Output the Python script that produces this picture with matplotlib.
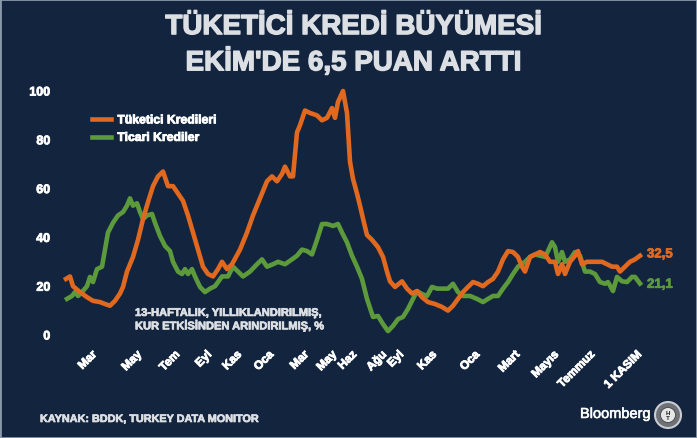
import numpy as np
import matplotlib
matplotlib.use("Agg")
import matplotlib.pyplot as plt
import matplotlib.patheffects as pe
from matplotlib.patches import Ellipse, Rectangle

plt.rcParams["font.family"] = ["Liberation Sans", "DejaVu Sans"]

# ── DATA (zaman ekseni: dönem başından itibaren sıra) ────────────
t_tuketici = [0, 4, 7, 14, 21, 27, 34, 39, 44, 49,
              54, 57, 61, 67, 72, 77, 82, 87, 92, 97,
              102, 107, 112, 117, 122, 127, 132, 137, 142, 147,
              152, 156, 161, 166, 174, 181, 187, 194, 201, 206,
              211, 216, 219, 224, 227, 231, 234, 239, 244, 251,
              256, 261, 266, 269, 272, 277, 281, 284, 287, 291,
              294, 298, 301, 306, 312, 317, 321, 324, 329, 336,
              341, 346, 351, 356, 362, 369, 376, 382, 387, 392,
              397, 402, 407, 412, 417, 422, 427, 432, 437, 442,
              447, 452, 456, 459, 464, 469, 474, 479, 484, 489,
              492, 496, 499, 504, 509, 512, 516, 521, 526, 531,
              536, 541, 546, 551, 554, 559, 564, 569, 574]
tuketici = [23, 24, 20, 17.6, 15.5, 14, 13.5, 12.7, 12, 14,
            17, 19.7, 26, 32, 39, 47.5, 54.5, 61, 65, 67,
            61, 61, 58, 55, 49, 42, 35, 28, 25, 24,
            27, 30, 27, 29, 35, 42, 49, 56, 63, 65,
            63, 66, 69, 65, 65, 83, 86, 92, 91, 90,
            88, 89, 93, 89, 95.5, 100, 91, 71, 64, 58,
            53, 46, 41, 39, 36, 32, 26, 22, 19.7, 22,
            19, 17, 18, 15.5, 13.5, 12.7, 11.5, 10, 12, 14.8,
            17.6, 19.7, 21.7, 21, 20, 21.7, 23, 26, 31, 34.4,
            34, 32, 28, 26, 32, 33, 34, 33, 30, 30,
            25, 29, 25, 30, 32.5, 34.4, 29, 30, 30, 30,
            30, 29, 28, 28, 26, 28, 30, 31, 32.5]

t_ticari = [1, 6, 9, 12, 16, 21, 24, 27, 31, 36,
            39, 42, 47, 52, 57, 61, 64, 67, 71, 74,
            77, 81, 86, 89, 94, 99, 104, 107, 112, 116,
            119, 122, 126, 129, 134, 139, 144, 149, 152, 156,
            162, 167, 172, 177, 184, 191, 196, 201, 207, 212,
            219, 226, 231, 236, 241, 246, 251, 256, 261, 267,
            272, 276, 281, 286, 291, 296, 301, 307, 312, 317,
            322, 327, 332, 337, 342, 347, 351, 356, 361, 366,
            371, 376, 382, 387, 392, 397, 404, 411, 417, 422,
            427, 432, 437, 442, 447, 452, 459, 464, 469, 474,
            479, 482, 486, 489, 492, 496, 499, 504, 509, 514,
            519, 524, 529, 534, 539, 542, 547, 551, 556, 561,
            566, 569, 574]
ticari = [14.8, 16, 17.6, 16, 17.6, 20, 23.8, 21.7, 27, 28,
          35, 42, 46, 49, 50.4, 53, 56, 53, 54, 50.4,
          47.5, 49, 49.6, 46, 40.6, 36.5, 34.4, 30, 26, 25,
          27, 25, 27, 24, 19.7, 17.6, 19, 20, 21.7, 24,
          24, 28, 26, 24, 26, 29, 31, 28, 29, 30,
          29, 31, 32.5, 35, 34.4, 33, 39, 45.5, 45.5, 44.7,
          45.5, 42, 38, 32.5, 28, 23, 14.8, 7.4, 7.8, 4.5,
          1.6, 3.7, 6.5, 7.4, 10.7, 14.8, 18, 16.8, 16, 19.7,
          19, 19, 19, 21, 17.6, 16, 16, 14.8, 13.5, 14.8,
          16, 16, 19, 21.7, 25, 28, 30, 32, 33, 32.5,
          32, 34.4, 38, 36, 30, 34, 30, 31, 34, 32.5,
          26, 26, 25, 21.7, 21, 21.7, 18, 23.8, 22, 21.7,
          23.8, 23.8, 21.1]

tick_pos = [29, 74, 112, 144, 174, 206, 241, 269, 289, 319, 336, 369, 412, 452,
            491, 527, 574]
tick_labels = ["Mar", "May", "Tem", "Eyl", "Kas", "Oca", "Mar", "May", "Haz",
               "Ağu", "Eyl", "Kas", "Oca", "Mart", "Mayıs", "Temmuz", "1 KASIM"]
y_ticks = [0, 20, 40, 60, 80, 100]

# ── STYLE ────────────────────────────────────────────────────────
BG     = "#13253e"
ORANGE = "#e0691f"
GREEN  = "#5c9a3c"
LIGHT  = "#dcdfe4"

def heavy(color, w=0.6):
    # bolder look than plain Liberation Sans Bold
    return [pe.withStroke(linewidth=w, foreground=color)]

fig = plt.figure(figsize=(6.97, 4.39), dpi=100, facecolor=BG)
ax = fig.add_axes([60/697, (439-340)/439, 590/697, 252/439], facecolor=BG)

ax.plot(t_ticari, ticari, color=GREEN, lw=3.3, solid_joinstyle="round",
        label="Ticari Krediler", zorder=2)
ax.plot(t_tuketici, tuketici, color=ORANGE, lw=3.3, solid_joinstyle="round",
        label="Tüketici Kredileri", zorder=3)

ax.set_xlim(-6, 584)
ax.set_ylim(-1.64, 101.64)
ax.set_yticks(y_ticks)
ax.set_yticklabels([str(v) for v in y_ticks], fontsize=9, fontweight="bold",
                   color="white")
ax.set_xticks(tick_pos)
ax.set_xticklabels(tick_labels, rotation=45, ha="right", va="center",
                   rotation_mode="anchor", fontsize=8.5, fontweight="bold",
                   color="white")
for lab in ax.get_xticklabels() + ax.get_yticklabels():
    lab.set_path_effects(heavy("white"))
ax.tick_params(axis="both", length=0)
ax.tick_params(axis="y", pad=7)
ax.tick_params(axis="x", pad=10)
for s in ax.spines.values():
    s.set_visible(False)

# legend (order: Tüketici on top)
h, l = ax.get_legend_handles_labels()
leg = ax.legend(h[::-1], l[::-1], loc="upper left", bbox_to_anchor=(0.035, 0.935),
                frameon=False, handlelength=1.6, handletextpad=0.5,
                labelspacing=0.45, prop={"weight": "bold", "size": 8.8})
for txt in leg.get_texts():
    txt.set_color("white")
    txt.set_path_effects(heavy("white"))

# end labels
ax.text(t_tuketici[-1] + 7, tuketici[-1] + 0.5, "32,5", color=ORANGE, fontsize=9.5,
        fontweight="bold", va="center", ha="left", path_effects=heavy(ORANGE))
ax.text(t_ticari[-1] + 7, ticari[-1] - 0.5, "21,1", color=GREEN, fontsize=9.5,
        fontweight="bold", va="center", ha="left", path_effects=heavy(GREEN))

# note
ax.text(69, 6.3, "13-HAFTALIK, YILLIKLANDIRILMIŞ,\nKUR ETKİSİNDEN ARINDIRILMIŞ, %",
        color=LIGHT, fontsize=8, fontweight="bold", va="center", ha="left",
        linespacing=1.15, path_effects=heavy(LIGHT, 0.5))

# title
for yy, line in [(0.936, "TÜKETİCİ KREDİ BÜYÜMESİ"), (0.856, "EKİM'DE 6,5 PUAN ARTTI")]:
    fig.text(0.507, yy, line, ha="center", va="center", fontsize=20,
             fontweight="bold", color=LIGHT, path_effects=heavy(LIGHT, 1.0))

# source + logo
fig.text(40/697, 1 - 420/439, "KAYNAK: BDDK, TURKEY DATA MONITOR", ha="left",
         va="center", fontsize=7.8, fontweight="bold", color=LIGHT,
         path_effects=heavy(LIGHT, 0.5))
fig.text(651/697, 1 - 415/439, "Bloomberg", ha="right", va="center",
         fontsize=10.5, color="white", path_effects=heavy("white", 0.4))
cx, cy = 668/697, 1 - 416/439
fig.patches.append(Ellipse((cx, cy), 26/697, 26/439, transform=fig.transFigure,
                           facecolor="#6e7177", edgecolor="#c9ccd1", lw=1.5))
fig.patches.append(Ellipse((cx, cy), 15/697, 15/439, transform=fig.transFigure,
                           facecolor="#e6e6e6", edgecolor="#444", lw=0.6))
fig.text(cx, cy, "H\nT", ha="center", va="center", fontsize=4.5,
         fontweight="bold", color="#222", linespacing=0.9)

# light frame at edges
fig.patches.append(Rectangle((0, 0), 1, 1, transform=fig.transFigure, fill=False,
                             edgecolor="#8a98ab", lw=2))

fig.savefig("out.png", dpi=100, facecolor=BG)
